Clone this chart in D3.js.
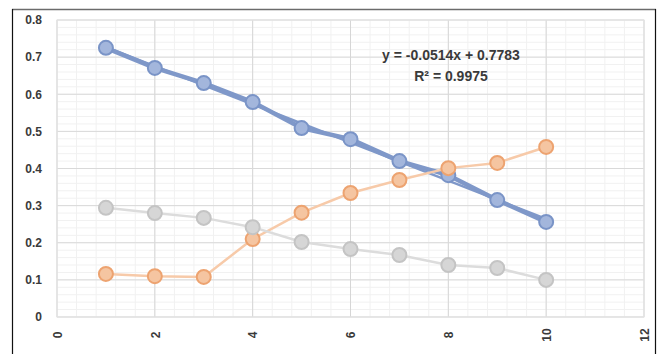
<!DOCTYPE html>
<html><head><meta charset="utf-8">
<script src="https://cdn.jsdelivr.net/npm/d3@7"></script>
<style>body{margin:0;background:#fff;}svg{display:block;}</style>
</head><body>
<script>
const xs = [1,2,3,4,5,6,7,8,9,10];
const blueVals = [0.725,0.671,0.630,0.579,0.509,0.479,0.420,0.382,0.315,0.256];
const orangeVals = [0.116,0.110,0.108,0.210,0.281,0.334,0.369,0.401,0.415,0.458];
const greyVals = [0.294,0.280,0.267,0.242,0.202,0.183,0.167,0.140,0.132,0.100];
const xTicks = [0,2,4,6,8,10,12];
const yTicks = [0,0.1,0.2,0.3,0.4,0.5,0.6,0.7,0.8];
const trend = {slope:-0.0514, intercept:0.7783};
const eqLines = ["y = -0.0514x + 0.7783", "R² = 0.9975"];

const W=661,H=354;
const svg=d3.select("body").append("svg").attr("width",W).attr("height",H);
svg.append("rect").attr("width",W).attr("height",H).attr("fill","#fff");
// chart frame
svg.append("line").attr("x1",12).attr("x2",656).attr("y1",9.5).attr("y2",9.5).attr("stroke","#6b6b6b").attr("stroke-width",1.5);
svg.append("line").attr("x1",12.5).attr("x2",12.5).attr("y1",9).attr("y2",H).attr("stroke","#111").attr("stroke-width",1.2);
svg.append("line").attr("x1",655.5).attr("x2",655.5).attr("y1",9).attr("y2",H).attr("stroke","#111").attr("stroke-width",1.2);

const x=d3.scaleLinear().domain([0,12]).range([57,644]);
const y=d3.scaleLinear().domain([0,0.8]).range([317,20]);
const g=svg.append("g");
// minor grid
const xMinor=d3.range(0,12.001,0.4), yMinor=d3.range(0,0.8001,0.02);
g.selectAll(".mx").data(xMinor).join("line").attr("x1",d=>x(d)).attr("x2",d=>x(d)).attr("y1",y(0)).attr("y2",y(0.8)).attr("stroke","#f1f1f1").attr("stroke-width",1);
g.selectAll(".my").data(yMinor).join("line").attr("x1",x(0)).attr("x2",x(12)).attr("y1",d=>y(d)).attr("y2",d=>y(d)).attr("stroke","#f1f1f1").attr("stroke-width",1);
// major grid
g.selectAll(".Mx").data(xTicks).join("line").attr("x1",d=>x(d)).attr("x2",d=>x(d)).attr("y1",y(0)).attr("y2",y(0.8)).attr("stroke","#d6d6d6").attr("stroke-width",1);
g.selectAll(".My").data(yTicks).join("line").attr("x1",x(0)).attr("x2",x(12)).attr("y1",d=>y(d)).attr("y2",d=>y(d)).attr("stroke","#d9d9d9").attr("stroke-width",1);
g.append("rect").attr("x",x(0)).attr("y",y(0.8)).attr("width",x(12)-x(0)).attr("height",y(0)-y(0.8)).attr("fill","none").attr("stroke","#e3e3e3");

const font="Liberation Sans, Arial, sans-serif";
// axes labels
const yAxis=d3.axisLeft(y).tickValues(yTicks).tickFormat(d=>d===0?"0":d3.format(".1f")(d)).tickSize(0).tickPadding(0);
const ya=svg.append("g").attr("transform",`translate(${42},0)`).call(yAxis);
ya.select(".domain").remove();
ya.selectAll("text").attr("font-family",font).attr("font-size",12).attr("font-weight","bold").attr("fill","#3a3a3a");
const xAxis=d3.axisBottom(x).tickValues(xTicks).tickSize(0).tickPadding(0);
const xa=svg.append("g").attr("transform",`translate(0,${335})`).call(xAxis);
xa.select(".domain").remove();
xa.selectAll("text").attr("font-family",font).attr("font-size",12).attr("font-weight","bold").attr("fill","#3a3a3a")
  .attr("transform","rotate(-90)").attr("dy","0.35em").attr("y",0).attr("x",0).attr("text-anchor","middle");

const line=d3.line().x(d=>x(d[0])).y(d=>y(d[1]));
function series(vals,lineColor,lw){
  const data=xs.map((v,i)=>[v,vals[i]]);
  svg.append("path").datum(data).attr("d",line).attr("fill","none").attr("stroke",lineColor).attr("stroke-width",lw).attr("stroke-linejoin","round");
  return data;
}
function markers(data,fill,stroke){
  svg.append("g").selectAll("circle").data(data).join("circle").attr("cx",d=>x(d[0])).attr("cy",d=>y(d[1])).attr("r",7)
    .attr("fill",fill).attr("stroke",stroke).attr("stroke-width",2);
}
const bd=series(blueVals,"#7f98c9",4.5);
// trendline
svg.append("path").datum([1,10].map(v=>[v,trend.slope*v+trend.intercept])).attr("d",line).attr("fill","none").attr("stroke","#7f98c9").attr("stroke-width",2.5);
markers(bd,"#a3b6dc","#7a94c7");
const od=series(orangeVals,"#f7caa9",2.5);
markers(od,"#f5c5a1","#eda370");
const gd=series(greyVals,"#dcdcdc",2.5);
markers(gd,"#d6d6d6","#c4c4c4");

svg.append("g").selectAll("text").data(eqLines).join("text").attr("x",451).attr("y",(d,i)=>60+i*21).attr("text-anchor","middle")
  .attr("font-family",font).attr("font-size",14).attr("font-weight","bold").attr("fill","#3a3a3a").text(d=>d);
</script>
</body></html>
